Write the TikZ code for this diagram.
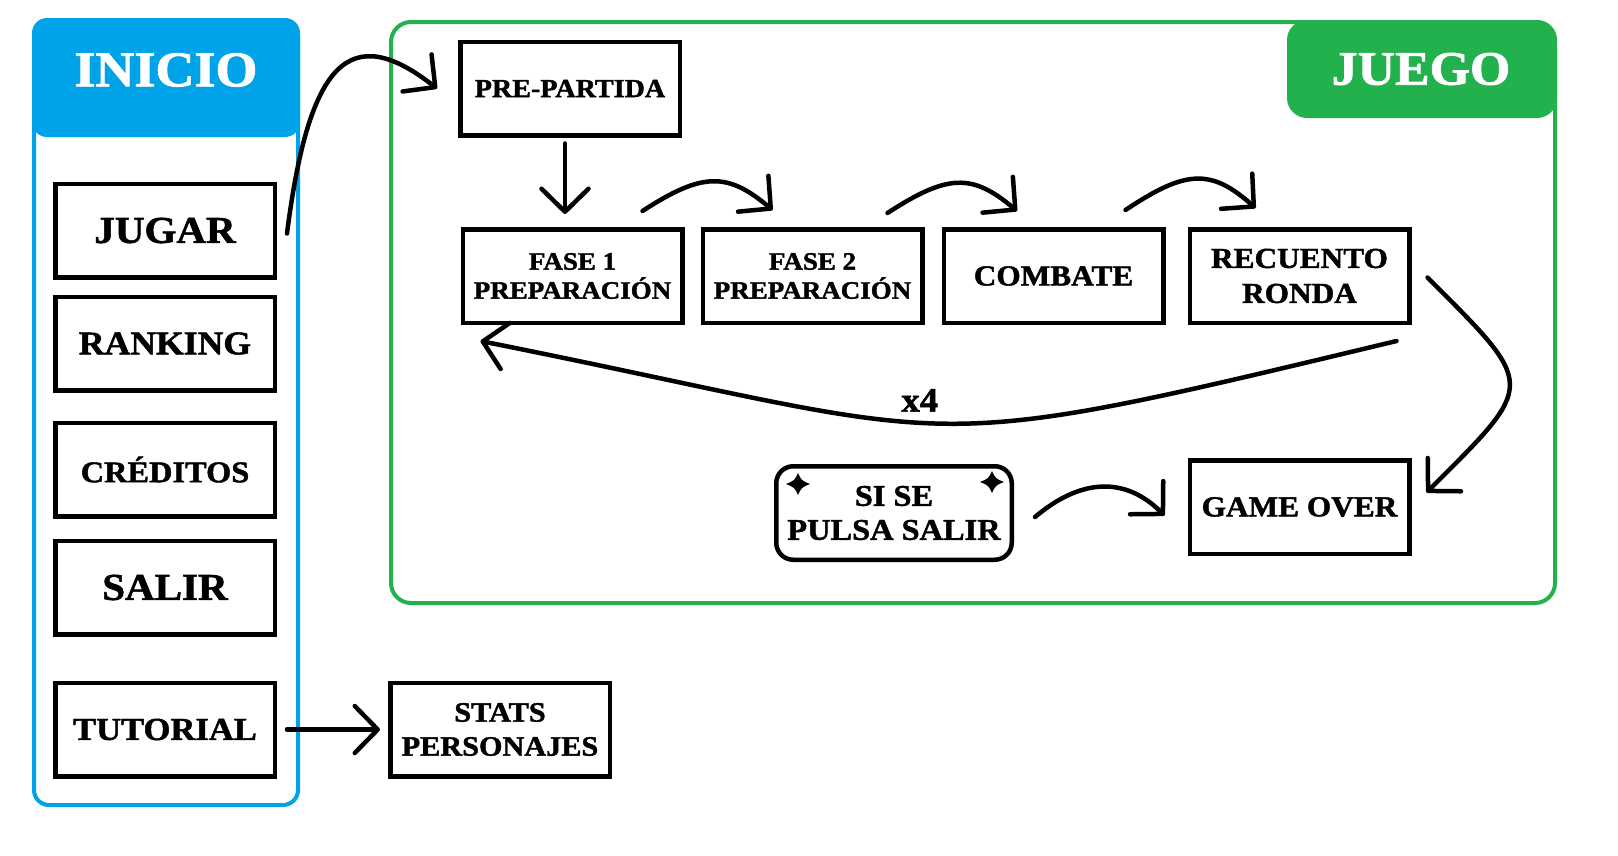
\documentclass[tikz,border=0pt]{standalone}
\usepackage{fontspec}
\setmainfont{Liberation Serif}[BoldFeatures={FakeBold=1.5, FakeStretch=1.08}]
\usetikzlibrary{arrows.meta, positioning, calc}

\definecolor{azulinicio}{HTML}{00A2E8}
\definecolor{verdejuego}{HTML}{22B14C}

\tikzset{
  caja/.style={draw, line width=4.5pt, minimum width=219.5pt, minimum height=93.5pt, inner sep=2pt, align=center, font=\bfseries\fontsize{#1pt}{#1pt}\selectfont},
  caja/.default=29,
  titulo/.style={text=white, inner sep=0pt, font=\bfseries\fontsize{#1pt}{#1pt}\selectfont},
  flecha/.style={line width=4.5pt, line cap=round, -{Straight Barb[length=23pt, width=47pt, round]}},
  destello/.pic={\fill (0,-11) .. controls (3.5,-3.5) .. (12,0) .. controls (3.5,3.5) .. (0,11) .. controls (-3.5,3.5) .. (-12,0) .. controls (-3.5,-3.5) .. cycle;}
}

\begin{document}
\begin{tikzpicture}[x=1pt, y=-1pt]
\useasboundingbox (0,0) rectangle (1618,855);

% bloque INICIO
\draw[azulinicio, line width=4pt, rounded corners=15pt] (34,20) rectangle (298,805);
\fill[azulinicio, rounded corners=15pt] (32,18) rectangle (300,137);
\node[titulo=50] (inicio) at (166,70) {INICIO};

% bloque JUEGO
\draw[verdejuego, line width=4pt, rounded corners=20pt] (391,22) rectangle (1555,603);
\fill[verdejuego, rounded corners=20pt] (1287,20) rectangle (1557,118);
\node[titulo=48] (juego) at (1421,69) {JUEGO};

% menu
\node[caja=38] (jugar) at (165,230.5) {JUGAR};
\node[caja=33] (ranking) [below=15pt of jugar] {RANKING};
\node[caja=30] (creditos) [below=28pt of ranking] {CRÉDITOS};
\node[caja=38] (salir) [below=20pt of creditos] {SALIR};
\node[caja=32] (tutorial) [below=44pt of salir] {TUTORIAL};
\node[caja=28] (stats) [right=111pt of tutorial] {STATS\\[6pt]PERSONAJES};

% partida
\node[caja=26] (prepartida) at (570,88.5) {PRE-PARTIDA};
\node[caja=25] (fase1) at (572.5,276) {FASE 1\\[4pt]PREPARACIÓN};
\node[caja=25] (fase2) [right=16pt of fase1] {FASE 2\\[4pt]PREPARACIÓN};
\node[caja] (combate) [right=17pt of fase2] {COMBATE};
\node[caja] (recuento) [right=22pt of combate] {RECUENTO\\[6pt]RONDA};
\node[caja] (gameover) [below=133pt of recuento] {GAME OVER};
\node[caja=30, minimum width=235.5pt, rounded corners=17pt] (sisalir) at (894,513) {SI SE\\[4pt]PULSA SALIR};
\pic at (798,484) {destello};
\pic at (992,482) {destello};

\draw[flecha] ($(jugar.east)+(10,3)$) .. controls +(22,-173) and +(-87,-68) .. ($(prepartida.west)+(-21,0)$);
\draw[flecha, shorten <=10pt, shorten >=8pt] (tutorial.east) -- (stats.west);
\draw[flecha] ($(prepartida.south)+(-5,6)$) -- ($(fase1.north)+(-7.5,-13)$);
\draw[flecha] ($(fase1.north east)+(-42,-16)$) .. controls +(60,-39) and +(-45,-38) .. ($(fase2.north)+(-40,-17)$);
\draw[flecha] ($(fase2.north east)+(-37,-14)$) .. controls +(60,-39) and +(-45,-38) .. ($(combate.north)+(-36.5,-16)$);
\draw[flecha] ($(combate.north east)+(-40,-17)$) .. controls +(60,-40) and +(-45,-40) .. ($(recuento.north)+(-44,-19)$);
\draw[flecha] ($(recuento.south east)+(-15,16)$) .. controls +(-500,120) and +(500,100) .. ($(fase1.south west)+(20,16)$)
  node[pos=0.53, above=9pt, inner sep=0pt, font=\bfseries\fontsize{34pt}{34pt}\selectfont] (vueltas) {x4};
\draw[flecha] ($(recuento.east)+(16,1.5)$) .. controls +(110,110) and +(110,-110) .. ($(gameover.east)+(15,-14.5)$);
\draw[flecha] ($(sisalir.east)+(21,4)$) .. controls +(45,-38) and +(-40,-40) .. ($(gameover.west)+(-23,8.5)$);
\end{tikzpicture}
\end{document}
